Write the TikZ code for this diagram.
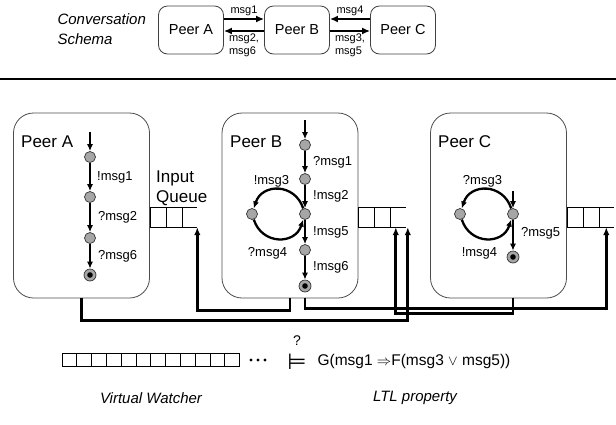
\documentclass[tikz,border=0pt]{standalone}
\usepackage{fontspec}
\setmainfont{Liberation Sans}
\newfontfamily\symbfont{DejaVu Sans}
\usetikzlibrary{arrows.meta,calc,positioning}

\begin{document}
\begin{tikzpicture}[
  x=1pt, y=-1pt,
  >=Latex,
  schema/.style={draw=black!75, line width=0.8pt, rounded corners=9pt,
    minimum width=65pt, minimum height=48pt, font=\fontsize{14.5}{17}\selectfont},
  msgarrow/.style={-{Latex[length=8pt,width=7pt]}, line width=2.6pt},
  msglbl/.style={font=\fontsize{11}{13}\selectfont, align=left, inner sep=1.5pt},
  peer/.style={draw=black!70, line width=0.8pt, rounded corners=20pt,
    minimum width=136pt, minimum height=185pt},
  peername/.style={font=\fontsize{17}{20}\selectfont, anchor=west, inner sep=0pt},
  state/.style={circle, draw=black!80, fill=black!35, line width=0.7pt,
    minimum size=11pt, inner sep=0pt},
  final/.style={state, minimum size=12pt,
    path picture={\fill[black] (path picture bounding box.center) circle (2.8pt);}},
  trans/.style={-{Latex[length=7pt,width=6pt]}, line width=2.3pt},
  tlbl/.style={font=\fontsize{13}{15}\selectfont, inner sep=1pt},
  queue/.style={minimum width=47pt, minimum height=19pt, inner sep=0pt, anchor=west},
  qline/.style={line width=0.8pt},
  wire/.style={-{Latex[length=8pt,width=6.5pt]}, line width=2.8pt},
  caption/.style={font=\itshape\fontsize{15}{20}\selectfont, align=left}
]
\useasboundingbox (0,0) rectangle (616,424);

% ----- conversation schema -----
\node[caption, anchor=west] (title) at (54,29) {Conversation\\Schema};
\node[schema] (cA) at (191,30) {Peer A};
\node[schema] (cB) at (297,30) {Peer B};
\node[schema] (cC) at (403,30) {Peer C};

\draw[msgarrow] ([yshift=11pt]cA.east) -- node[msglbl, above] {msg1} ([yshift=11pt]cB.west);
\draw[msgarrow] ([yshift=-1pt]cB.west) -- node[msglbl, below] {msg2,\\msg6} ([yshift=-1pt]cA.east);
\draw[msgarrow] ([yshift=11pt]cC.west) -- node[msglbl, above] {msg4} ([yshift=11pt]cB.east);
\draw[msgarrow] ([yshift=-1pt]cB.east) -- node[msglbl, below] {msg3,\\msg5} ([yshift=-1pt]cC.west);

\draw[line width=2pt] (0,79) -- (616,79);

% ----- peers -----
\node[peer] (peerA) at (81.5,205.5) {};
\node[peer] (peerB) at (290,205.5) {};
\node[peer] (peerC) at (498.5,205.5) {};
\node[peername] (nA) at (21,142) {Peer A};
\node[peername] (nB) at (230,142) {Peer B};
\node[peername] (nC) at (438,142) {Peer C};

% ----- input queues -----
\node[font=\fontsize{17}{20}\selectfont, align=left, anchor=west, inner sep=0pt]
  (iq) at (156,188) {Input\\Queue};
\node[queue] (qA) at (peerA.east |- 0,217.5) {};
\node[queue] (qB) at (peerB.east |- 0,217.5) {};
\node[queue] (qC) at (peerC.east |- 0,217.5) {};
\foreach \q in {qA,qB,qC} {
  \draw[qline] (\q.north west) -- (\q.north east)
               (\q.south west) -- (\q.south east);
  \foreach \k in {0,16,32}
    \draw[qline] ([xshift=\k pt]\q.north west) -- ([xshift=\k pt]\q.south west);
}

% ----- peer A -----
\def\xa{90}
\coordinate (iA) at (\xa,132);
\node[state] (a0) at (\xa,157) {};
\node[state] (a1) at (\xa,197) {};
\node[state] (a2) at (\xa,238) {};
\node[final] (a3) at (\xa,275) {};
\draw[trans] (iA) -- (a0);
\draw[trans] (a0) -- node[tlbl, right=5pt] {!msg1} (a1);
\draw[trans] (a1) -- node[tlbl, right=6pt] {?msg2} (a2);
\draw[trans] (a2) -- node[tlbl, right=6pt] {?msg6} (a3);

% ----- peer B -----
\def\xb{305}
\coordinate (iB) at (\xb,120);
\node[state] (b0) at (\xb,145) {};
\node[state] (b1) at (\xb,179) {};
\node[state] (b2) at (\xb,214) {};
\node[state] (b3) at (\xb,250) {};
\node[final] (b4) at (\xb,286) {};
\node[state] (bl) at (252,214) {};
\draw[trans] (iB) -- (b0);
\draw[trans] (b0) -- node[tlbl, right=6pt] {?msg1} (b1);
\draw[trans] (b1) -- node[tlbl, right=6pt] {!msg2} (b2);
\draw[trans] (b2) -- node[tlbl, right=6pt] {!msg5} (b3);
\draw[trans] (b3) -- node[tlbl, right=6pt] {!msg6} (b4);
\draw[trans] (b2) .. controls +(-10,-31) and +(10,-31) .. node[tlbl, above=0pt, xshift=-7pt] {!msg3} (bl);
\draw[trans] (bl) .. controls +(10,31) and +(-10,31) .. node[tlbl, below=7pt, xshift=-11pt] {?msg4} (b2);

% ----- peer C -----
\def\xc{513}
\coordinate (iC) at (\xc,191);
\node[state] (c0) at (\xc,214) {};
\node[state] (cl) at (460,214) {};
\node[final] (cf) at (\xc,257) {};
\draw[trans] (iC) -- (c0);
\draw[trans] (c0) -- node[tlbl, right=6pt, yshift=2pt] {?msg5} (cf);
\draw[trans] (c0) .. controls +(-10,-31) and +(10,-31) .. node[tlbl, above=0pt, xshift=-4pt] {?msg3} (cl);
\draw[trans] (cl) .. controls +(10,31) and +(-10,31) .. node[tlbl, below=7pt, xshift=-7pt] {!msg4} (c0);

% ----- wiring between peers and queues -----
\draw[wire] (peerA.south) -- ++(0,22) -| ([xshift=2pt]qB.south east);
\draw[wire] (peerB.south) -- ++(0,12) -| (qA.south east);
\draw[wire] (b4 |- peerB.south) -- ++(0,10) -| ([xshift=-8pt]qC.south east);
\draw[wire] (cf |- peerC.south) -- ++(0,15) -| ([xshift=-10pt]qB.south east);

% ----- virtual watcher and LTL property -----
\foreach \i in {0,...,11}
  \draw[qline] ({62+\i*14.8},353) rectangle ++(14.8,13.5);
\foreach \k in {0,1,2}
  \fill ({251+\k*7},360) circle (1.6pt);
\node[font=\symbfont\fontsize{22}{22}\selectfont, inner sep=0pt] (ent) at (297,362) {⊨};
\node[font=\fontsize{14}{16}\selectfont, inner sep=0pt] (qm) at (297,341) {?};
\node[font=\fontsize{15.5}{18}\selectfont, anchor=west] (ltl) at (314,361)
  {G(msg1 $\Rightarrow$F(msg3 $\vee$ msg5))};
\node[caption] (vw) at (151,398) {Virtual Watcher};
\node[caption] (lp) at (415,398) {LTL property};
\end{tikzpicture}
\end{document}
